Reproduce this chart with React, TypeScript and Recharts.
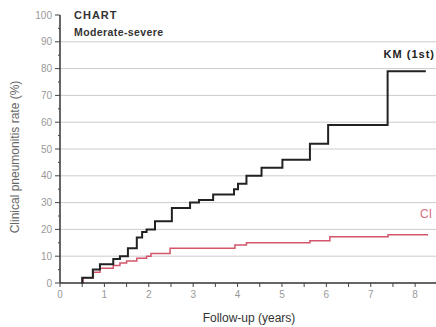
import React from "react";
import { LineChart, Line, XAxis, YAxis, CartesianGrid } from "recharts";

// cumulative incidence, Kaplan-Meier estimate (first event)
const kmTimes = [0.48, 0.5, 0.74, 0.9, 1.2, 1.35, 1.53, 1.73, 1.85, 1.95, 2.14, 2.52, 2.93, 3.13, 3.45, 3.92, 4.01, 4.2, 4.54, 5.01, 5.63, 6.04, 7.38, 8.24];
const kmValues = [0, 2, 5, 7, 9, 10, 13, 17, 19, 20, 23, 28, 30, 31, 33, 35, 37, 40, 43, 46, 52, 59, 79, 79];

// cumulative incidence with competing risks
const ciTimes = [0.48, 0.52, 0.75, 0.9, 1.2, 1.35, 1.5, 1.73, 1.95, 2.05, 2.48, 3.94, 4.2, 5.63, 6.08, 7.39, 8.29];
const ciValues = [0, 2, 4, 5.5, 6.5, 7.5, 8.2, 9.2, 10, 11, 13, 14.2, 15, 15.8, 17.3, 18, 18];

const xTicks = [0, 0.5, 1, 1.5, 2, 2.5, 3, 3.5, 4, 4.5, 5, 5.5, 6, 6.5, 7, 7.5, 8];
const yTicks = [0, 5, 10, 15, 20, 25, 30, 35, 40, 45, 50, 55, 60, 65, 70, 75, 80, 85, 90, 95, 100];
const gridLines = [10, 20, 30, 40, 50, 60, 70, 80, 90];

const kmData = kmTimes.map((t, i) => ({ t, v: kmValues[i] }));
const ciData = ciTimes.map((t, i) => ({ t, v: ciValues[i] }));

const FONT = "'Liberation Sans', Arial, sans-serif";

function YTick(props: any) {
  const { x, y, payload } = props;
  const major = payload.value % 10 === 0;
  return (
    <g>
      <line x1={major ? x - 5 : x - 2} x2={x} y1={y} y2={y} stroke="#444" strokeWidth={1} />
      {major && (
        <text x={x - 8} y={y + 3.5} textAnchor="end" fontSize={10} fill="#999" fontFamily={FONT}>
          {payload.value}
        </text>
      )}
    </g>
  );
}

function XTick(props: any) {
  const { x, y, payload } = props;
  const major = Number.isInteger(payload.value);
  return (
    <g>
      <line x1={x} x2={x} y1={y} y2={y + 4} stroke="#444" strokeWidth={1} />
      {major && (
        <text x={x} y={y + 15} textAnchor="middle" fontSize={10} fill="#999" fontFamily={FONT}>
          {payload.value}
        </text>
      )}
    </g>
  );
}

export default function App() {
  return (
    <div style={{ position: "absolute", left: 0, top: 0, width: 436, height: 327, background: "#fff" }}>
      <LineChart width={436} height={327} margin={{ top: 15, right: 0, bottom: 14, left: 0 }}>
        <CartesianGrid vertical={false} horizontalValues={gridLines} stroke="#ccc" strokeWidth={1} />
        <XAxis
          type="number"
          dataKey="t"
          domain={[0, 8.47]}
          ticks={xTicks}
          height={30}
          tick={<XTick />}
          tickLine={false}
          tickSize={0}
          tickMargin={0}
          axisLine={{ stroke: "#333", strokeWidth: 1.5 }}
          allowDuplicatedCategory={false}
        />
        <YAxis
          type="number"
          domain={[0, 100]}
          ticks={yTicks}
          width={60}
          tick={<YTick />}
          tickLine={false}
          tickSize={0}
          tickMargin={0}
          interval={0}
          axisLine={{ stroke: "#333", strokeWidth: 1.5 }}
        />
        <Line data={ciData} dataKey="v" type="stepAfter" stroke="#d2556a" strokeWidth={1.5} dot={false} isAnimationActive={false} />
        <Line data={kmData} dataKey="v" type="stepAfter" stroke="#222" strokeWidth={2} dot={false} isAnimationActive={false} />
      </LineChart>
      <svg width={436} height={327} style={{ position: "absolute", left: 0, top: 0, pointerEvents: "none" }} fontFamily={FONT}>
        <text x={74} y={19} fontSize={11} fontWeight="bold" fill="#333" letterSpacing={1}>CHART</text>
        <text x={74} y={36} fontSize={10.5} fontWeight="bold" fill="#333" letterSpacing={0.4}>Moderate-severe</text>
        <text x={435} y={58} fontSize={11} fontWeight="bold" fill="#222" textAnchor="end" letterSpacing={1}>KM (1st)</text>
        <text x={432} y={218} fontSize={12} fill="#d9707f" textAnchor="end">CI</text>
        <text x={249} y={322} fontSize={12} fill="#333" textAnchor="middle">Follow-up (years)</text>
        <text x={19} y={157} fontSize={12} fill="#666" textAnchor="middle" transform="rotate(-90 19 157)">
          Clinical pneumonitis rate (%)
        </text>
      </svg>
    </div>
  );
}
